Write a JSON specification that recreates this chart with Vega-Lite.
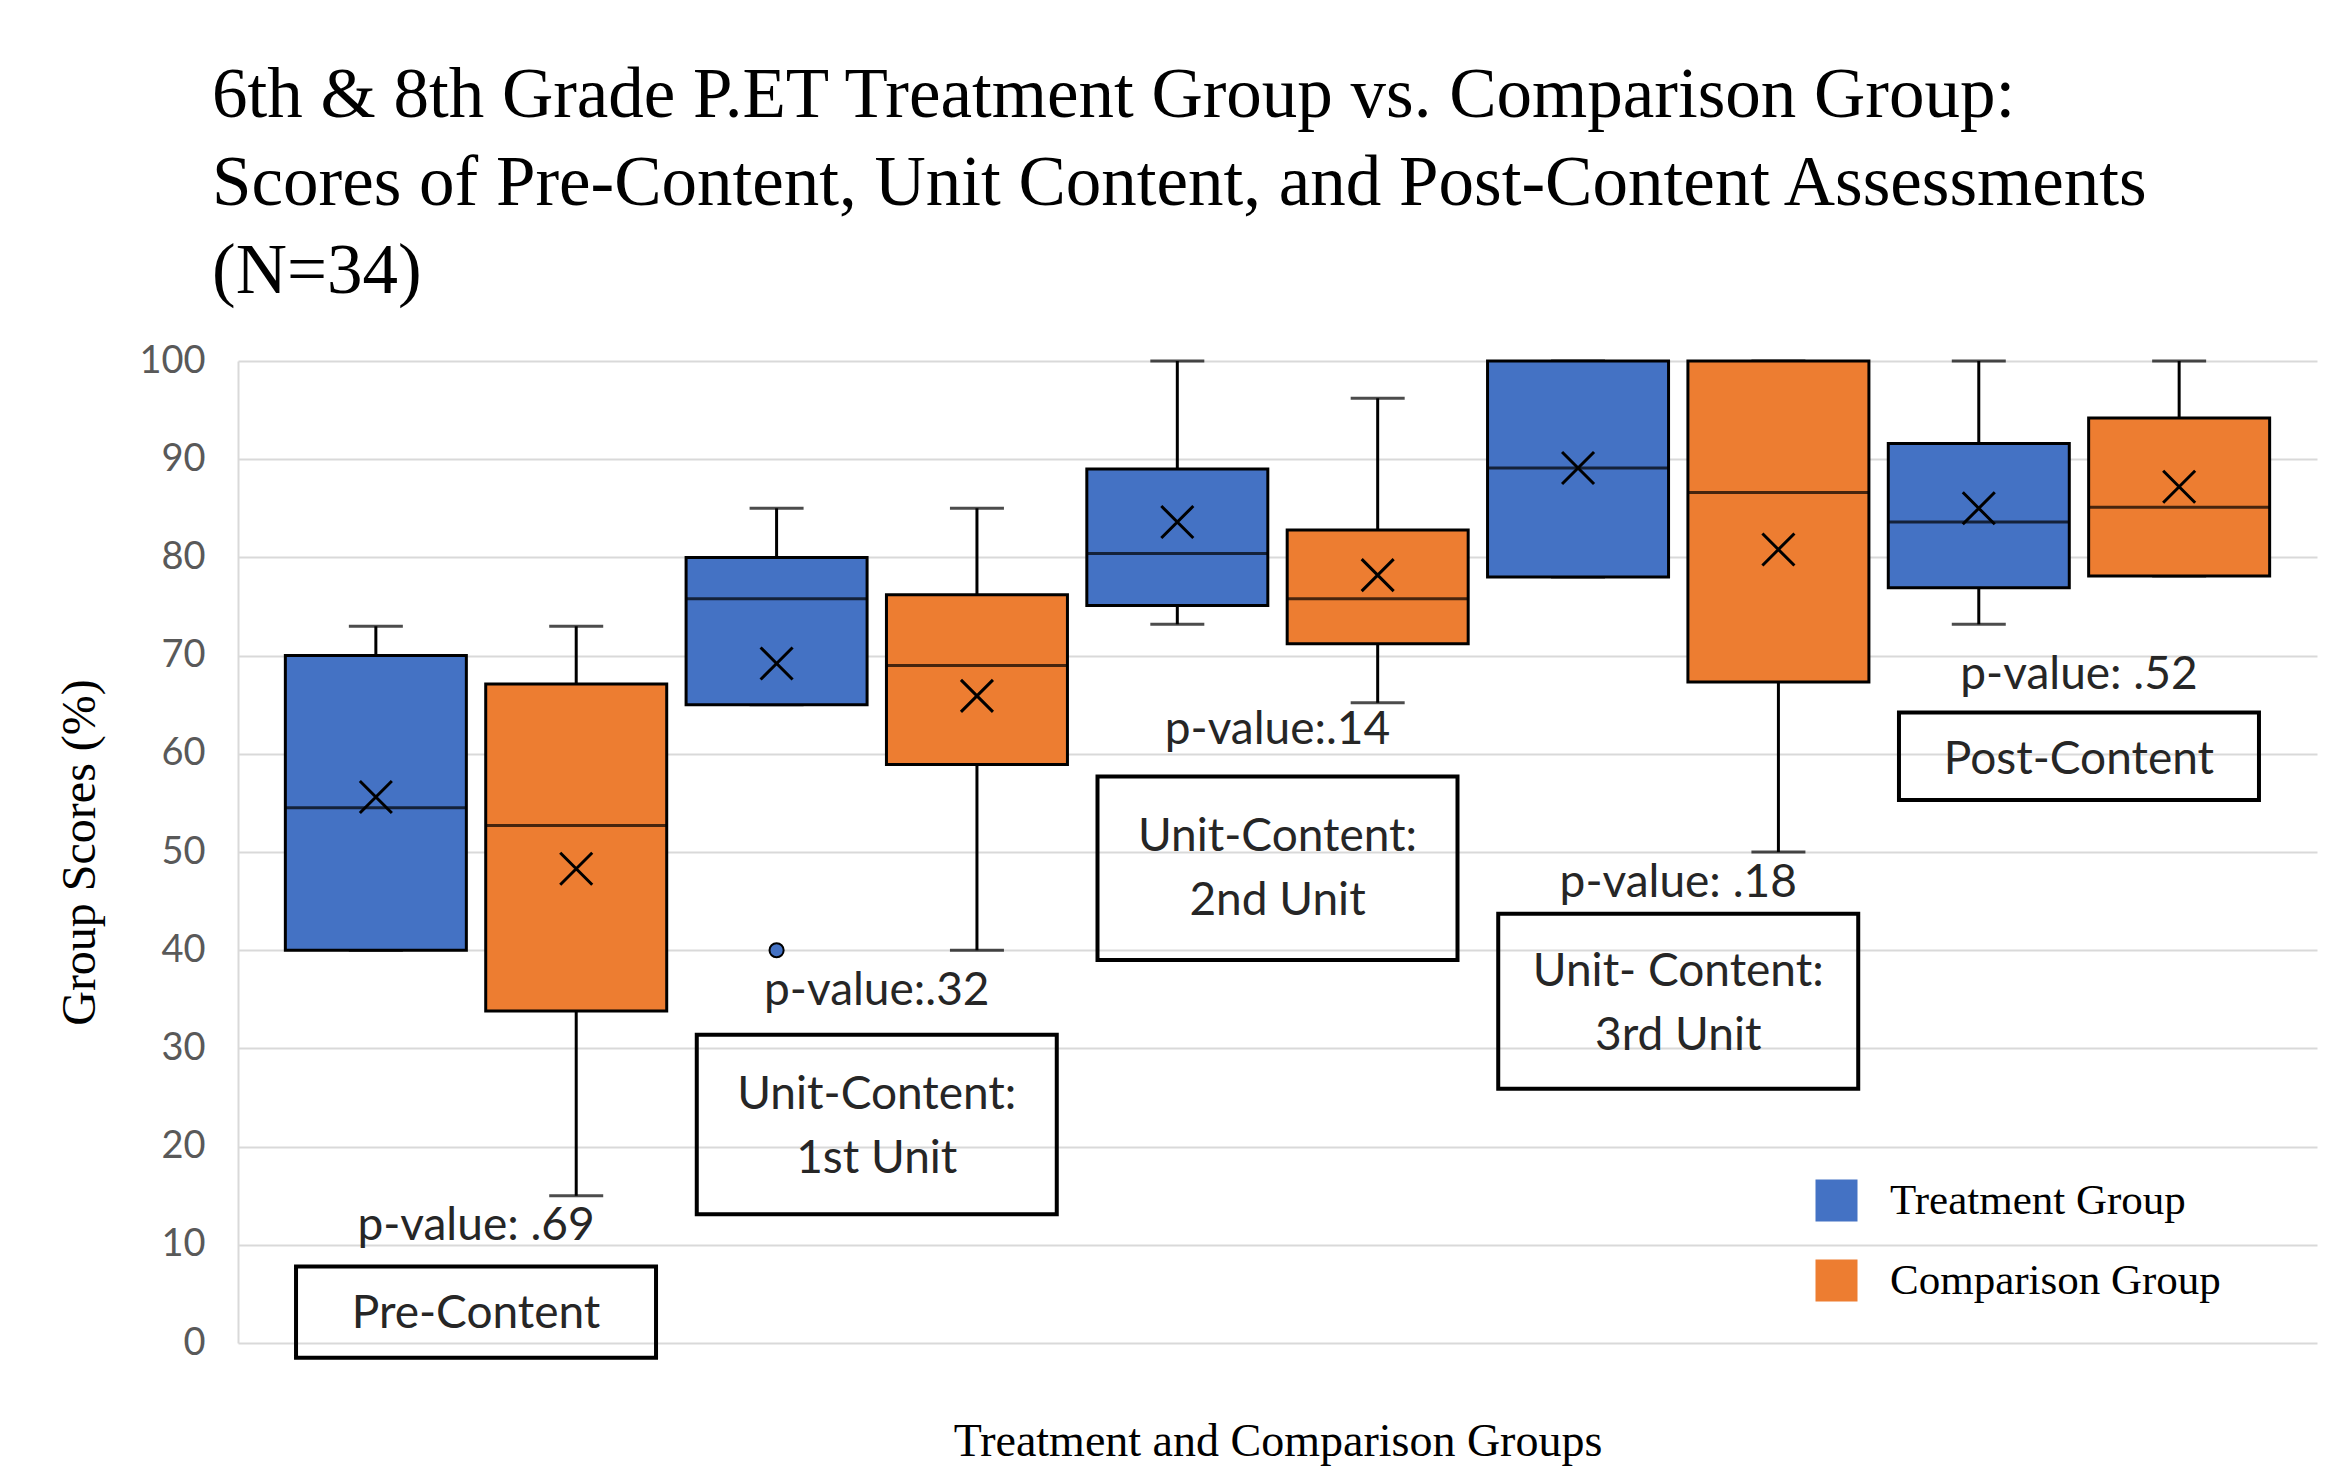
{
  "$schema": "https://vega.github.io/schema/vega-lite/v6.json",
  "width": 2079,
  "height": 982,
  "autosize": "none",
  "padding": {"left": 238, "top": 361, "right": 12, "bottom": 133},
  "background": "white",
  "config": {"view": {"stroke": null}},
  "title": {
    "text": ["6th & 8th Grade P.ET Treatment Group vs. Comparison Group:", "Scores of Pre-Content, Unit Content, and Post-Content Assessments", "(N=34)"],
    "anchor": "start",
    "frame": "group",
    "dx": -26,
    "offset": 34,
    "font": "Liberation Serif",
    "fontSize": 71,
    "fontWeight": "normal",
    "lineHeight": 88,
    "color": "black"
  },
  "datasets": {
    "boxes": [
      {"assessment": "Pre-Content", "group": "Treatment Group", "min": 40, "q1": 40, "median": 54.5, "q3": 70, "max": 73, "mean": 55.6},
      {"assessment": "Pre-Content", "group": "Comparison Group", "min": 15, "q1": 33.8, "median": 52.7, "q3": 67.1, "max": 73, "mean": 48.3},
      {"assessment": "Unit 1", "group": "Treatment Group", "min": 65, "q1": 65, "median": 75.8, "q3": 80, "max": 85, "mean": 69.2},
      {"assessment": "Unit 1", "group": "Comparison Group", "min": 40, "q1": 58.9, "median": 69.0, "q3": 76.2, "max": 85, "mean": 65.9},
      {"assessment": "Unit 2", "group": "Treatment Group", "min": 73.2, "q1": 75.1, "median": 80.4, "q3": 89.0, "max": 100, "mean": 83.6},
      {"assessment": "Unit 2", "group": "Comparison Group", "min": 65.2, "q1": 71.2, "median": 75.8, "q3": 82.8, "max": 96.2, "mean": 78.2},
      {"assessment": "Unit 3", "group": "Treatment Group", "min": 78, "q1": 78, "median": 89.1, "q3": 100, "max": 100, "mean": 89.1},
      {"assessment": "Unit 3", "group": "Comparison Group", "min": 50, "q1": 67.3, "median": 86.6, "q3": 100, "max": 100, "mean": 80.8},
      {"assessment": "Post-Content", "group": "Treatment Group", "min": 73.2, "q1": 76.9, "median": 83.6, "q3": 91.6, "max": 100, "mean": 85.0},
      {"assessment": "Post-Content", "group": "Comparison Group", "min": 78.1, "q1": 78.1, "median": 85.1, "q3": 94.2, "max": 100, "mean": 87.2}
    ],
    "outliers": [
      {"assessment": "Unit 1", "group": "Treatment Group", "value": 40}
    ],
    "notes": [
      {"assessment": "Pre-Content", "pvalue": "p-value: .69", "p_y": 11.9, "label": "Pre-Content", "label_y": 3.0, "box_lo": -1.5, "box_hi": 7.8},
      {"assessment": "Unit 1", "pvalue": "p-value:.32", "p_y": 35.8, "label": "Unit-Content:\n1st Unit", "label_y": 25.3, "box_lo": 13.1, "box_hi": 31.4},
      {"assessment": "Unit 2", "pvalue": "p-value:.14", "p_y": 62.4, "label": "Unit-Content:\n2nd Unit", "label_y": 51.5, "box_lo": 39.0, "box_hi": 57.7},
      {"assessment": "Unit 3", "pvalue": "p-value: .18", "p_y": 46.8, "label": "Unit- Content:\n3rd Unit", "label_y": 37.8, "box_lo": 25.9, "box_hi": 43.7},
      {"assessment": "Post-Content", "pvalue": "p-value: .52", "p_y": 68.0, "label": "Post-Content", "label_y": 59.4, "box_lo": 55.3, "box_hi": 64.2}
    ]
  },
  "layer": [
    {
      "data": {"name": "boxes"},
      "mark": {"type": "rule", "color": "black", "strokeWidth": 3},
      "encoding": {
        "x": {
          "field": "assessment", "type": "nominal",
          "sort": ["Pre-Content", "Unit 1", "Unit 2", "Unit 3", "Post-Content"],
          "scale": {"paddingInner": 0, "paddingOuter": 0.094},
          "axis": {"labels": false, "ticks": false, "domain": false, "grid": false,
            "title": "Treatment and Comparison Groups", "titleFont": "Liberation Serif", "titleFontSize": 46,
            "titleFontWeight": "normal", "titleColor": "black", "titlePadding": 76}
        },
        "xOffset": {"field": "group", "type": "nominal", "sort": ["Treatment Group", "Comparison Group"], "scale": {"paddingInner": 0, "paddingOuter": 0}},
        "y": {
          "field": "min", "type": "quantitative",
          "scale": {"domain": [0, 100], "nice": false},
          "axis": {"values": [0, 10, 20, 30, 40, 50, 60, 70, 80, 90, 100], "grid": true, "gridColor": "#d9d9d9", "gridWidth": 2,
            "domain": true, "domainColor": "#d9d9d9", "domainWidth": 2, "ticks": false,
            "labelFont": "Lato", "labelFontSize": 38, "labelColor": "#595959", "labelPadding": 33,
            "title": "Group Scores (%)", "titleFont": "Liberation Serif", "titleFontSize": 48, "titleFontWeight": "normal",
            "titleColor": "black", "titlePadding": 34}
        },
        "y2": {"field": "max"}
      }
    },
    {
      "data": {"name": "boxes"},
      "mark": {"type": "tick", "color": "black", "size": 54, "thickness": 3},
      "encoding": {
        "x": {"field": "assessment", "type": "nominal", "sort": ["Pre-Content", "Unit 1", "Unit 2", "Unit 3", "Post-Content"]},
        "xOffset": {"field": "group", "type": "nominal", "sort": ["Treatment Group", "Comparison Group"]},
        "y": {"field": "min", "type": "quantitative"}
      }
    },
    {
      "data": {"name": "boxes"},
      "mark": {"type": "tick", "color": "black", "size": 54, "thickness": 3},
      "encoding": {
        "x": {"field": "assessment", "type": "nominal", "sort": ["Pre-Content", "Unit 1", "Unit 2", "Unit 3", "Post-Content"]},
        "xOffset": {"field": "group", "type": "nominal", "sort": ["Treatment Group", "Comparison Group"]},
        "y": {"field": "max", "type": "quantitative"}
      }
    },
    {
      "data": {"name": "boxes"},
      "mark": {"type": "bar", "width": 181, "stroke": "black", "strokeWidth": 3, "opacity": 1},
      "encoding": {
        "x": {"field": "assessment", "type": "nominal", "sort": ["Pre-Content", "Unit 1", "Unit 2", "Unit 3", "Post-Content"]},
        "xOffset": {"field": "group", "type": "nominal", "sort": ["Treatment Group", "Comparison Group"]},
        "y": {"field": "q1", "type": "quantitative"},
        "y2": {"field": "q3"},
        "color": {
          "field": "group", "type": "nominal",
          "scale": {"domain": ["Treatment Group", "Comparison Group"], "range": ["#4472C4", "#ED7D31"]},
          "legend": {"orient": "none", "legendX": 1577, "legendY": 818, "title": null, "symbolType": "square",
            "symbolSize": 1764, "symbolStrokeWidth": 0, "symbolOpacity": 1, "labelFont": "Liberation Serif", "labelFontSize": 43,
            "labelColor": "black", "labelOffset": 32, "rowPadding": 36, "labelLimit": 0}
        }
      }
    },
    {
      "data": {"name": "boxes"},
      "mark": {"type": "tick", "color": "black", "size": 181, "thickness": 3},
      "encoding": {
        "x": {"field": "assessment", "type": "nominal", "sort": ["Pre-Content", "Unit 1", "Unit 2", "Unit 3", "Post-Content"]},
        "xOffset": {"field": "group", "type": "nominal", "sort": ["Treatment Group", "Comparison Group"]},
        "y": {"field": "median", "type": "quantitative"}
      }
    },
    {
      "data": {"name": "boxes"},
      "mark": {"type": "point", "shape": "M-1,-1L1,1M1,-1L-1,1", "filled": false, "stroke": "black", "strokeWidth": 3, "size": 1024, "opacity": 1},
      "encoding": {
        "x": {"field": "assessment", "type": "nominal", "sort": ["Pre-Content", "Unit 1", "Unit 2", "Unit 3", "Post-Content"]},
        "xOffset": {"field": "group", "type": "nominal", "sort": ["Treatment Group", "Comparison Group"]},
        "y": {"field": "mean", "type": "quantitative"}
      }
    },
    {
      "data": {"name": "outliers"},
      "mark": {"type": "point", "shape": "circle", "filled": true, "fill": "#4472C4", "stroke": "black", "strokeWidth": 2, "size": 200, "opacity": 1},
      "encoding": {
        "x": {"field": "assessment", "type": "nominal", "sort": ["Pre-Content", "Unit 1", "Unit 2", "Unit 3", "Post-Content"]},
        "xOffset": {"field": "group", "type": "nominal", "sort": ["Treatment Group", "Comparison Group"]},
        "y": {"field": "value", "type": "quantitative"}
      }
    },
    {
      "data": {"name": "notes"},
      "mark": {"type": "bar", "width": 360, "fillOpacity": 0, "stroke": "black", "strokeWidth": 4},
      "encoding": {
        "x": {"field": "assessment", "type": "nominal", "sort": ["Pre-Content", "Unit 1", "Unit 2", "Unit 3", "Post-Content"]},
        "y": {"field": "box_lo", "type": "quantitative"},
        "y2": {"field": "box_hi"}
      }
    },
    {
      "data": {"name": "notes"},
      "mark": {"type": "text", "font": "Lato", "fontSize": 46, "color": "#262626", "baseline": "middle", "align": "center"},
      "encoding": {
        "x": {"field": "assessment", "type": "nominal", "sort": ["Pre-Content", "Unit 1", "Unit 2", "Unit 3", "Post-Content"]},
        "y": {"field": "p_y", "type": "quantitative"},
        "text": {"field": "pvalue"}
      }
    },
    {
      "data": {"name": "notes"},
      "mark": {"type": "text", "font": "Lato", "fontSize": 46, "color": "#262626", "baseline": "middle", "align": "center", "lineBreak": "\n", "lineHeight": 64},
      "encoding": {
        "x": {"field": "assessment", "type": "nominal", "sort": ["Pre-Content", "Unit 1", "Unit 2", "Unit 3", "Post-Content"]},
        "y": {"field": "label_y", "type": "quantitative"},
        "text": {"field": "label"}
      }
    }
  ]
}
